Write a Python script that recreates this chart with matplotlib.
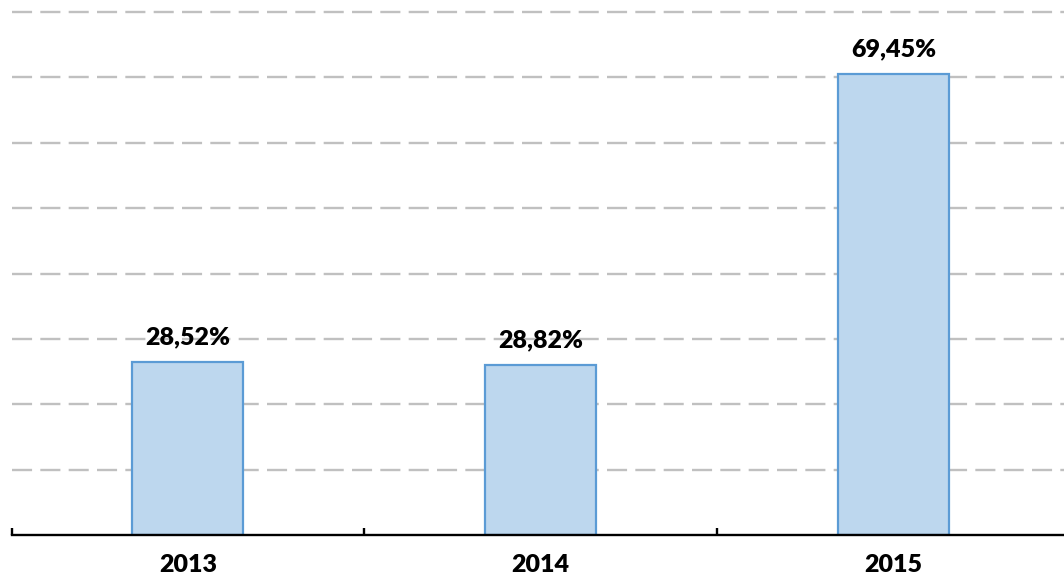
import numpy as np
import matplotlib
matplotlib.use("Agg")
import matplotlib.pyplot as plt

# data
years = ["2013", "2014", "2015"]
bar_heights = [26.45, 26.0, 70.5]          # bar heights as drawn (grid step = 10)
value_labels = ["28,52%", "28,82%", "69,45%"]

plt.rcParams['font.family'] = ['Lato', 'DejaVu Sans']

fig = plt.figure(figsize=(10.64, 5.85), dpi=100)
ax = fig.add_axes([11.5 / 1064, 50 / 585, 1058.5 / 1064, 523 / 585])

x = np.arange(len(years))
ax.bar(x, bar_heights, width=0.315, color="#BDD7EE", edgecolor="#5B9BD5",
       linewidth=1.6, zorder=3)

for xi, h, lab in zip(x, bar_heights, value_labels):
    ax.annotate(lab, (xi, h), xytext=(0, 18), textcoords="offset points",
                ha="center", va="center", fontsize=18, fontweight="heavy")

ax.set_xlim(-0.5, 2.5)
ax.set_ylim(0, 80)

# dashed grid
for gy in range(10, 81, 10):
    ax.axhline(gy, color="#C0C0C0", linewidth=1.7, dashes=(8.5, 3.5),
               zorder=1, clip_on=False)

for s in ["top", "right", "left"]:
    ax.spines[s].set_visible(False)
ax.spines["bottom"].set_linewidth(1.7)
ax.spines["bottom"].set_zorder(4)

ax.set_yticks([])
ax.set_xticks(x)
ax.set_xticklabels(years, fontsize=18, fontweight="heavy")
ax.tick_params(axis="x", which="major", length=0, pad=14)
ax.set_xticks([-0.5, 0.5, 1.5, 2.5], minor=True)
ax.tick_params(axis="x", which="minor", direction="in", length=5, width=1.7)

fig.savefig("out.png", dpi=100)
